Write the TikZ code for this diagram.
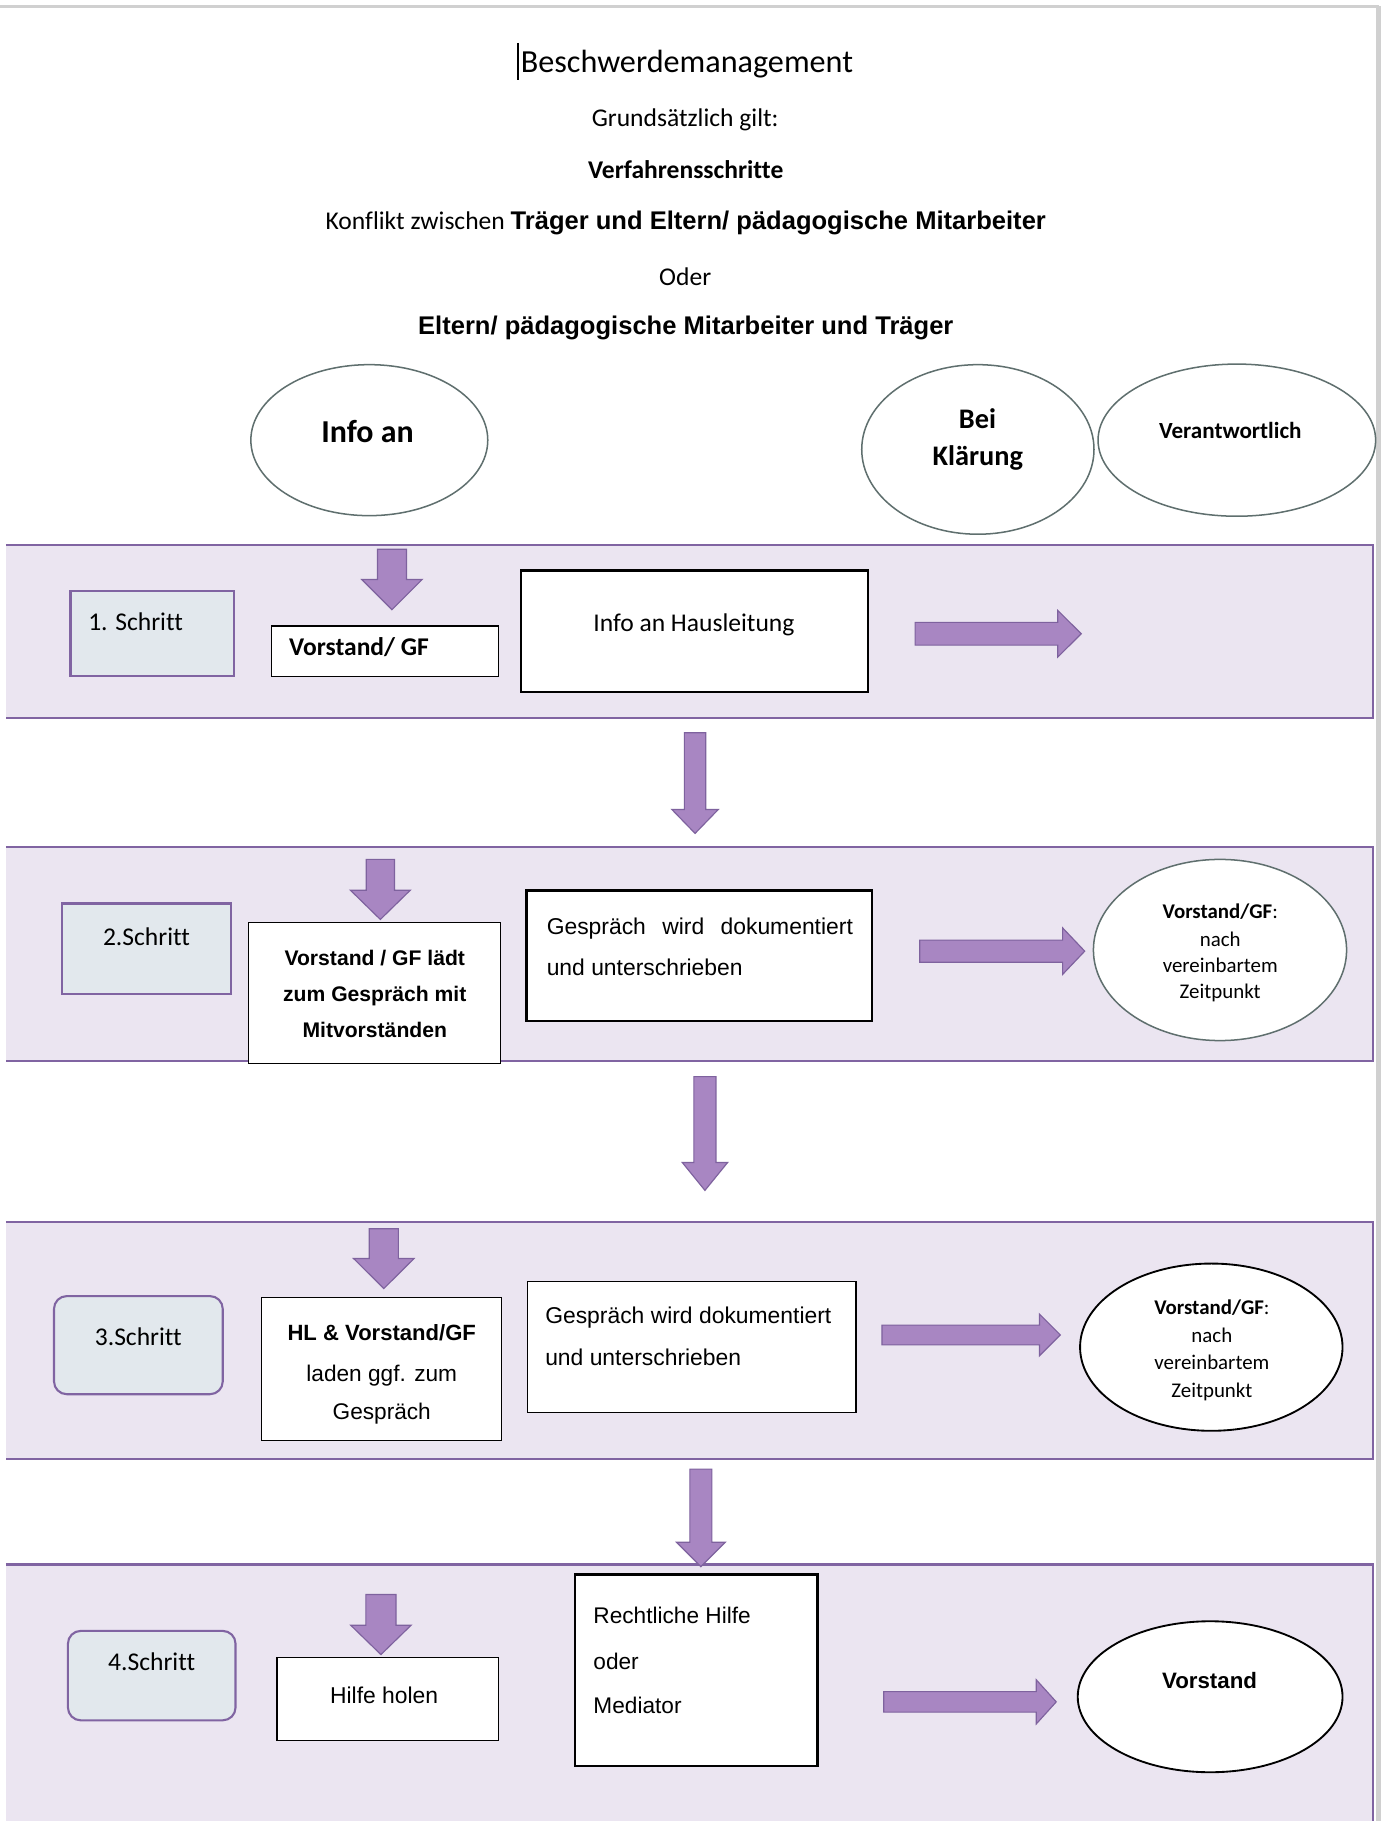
\documentclass[tikz,border=0pt]{standalone}
\usepackage{fontspec}
\setmainfont{Carlito}[Ligatures=NoCommon]
\newfontfamily\arialf{Liberation Sans}
\usetikzlibrary{shapes.geometric}
\definecolor{bandfill}{HTML}{EBE5F1}
\definecolor{bandline}{HTML}{8064A2}
\definecolor{stepfill}{HTML}{E2E8ED}
\definecolor{arrfill}{HTML}{A886C2}
\definecolor{arrline}{HTML}{7E629E}
\definecolor{ellgray}{HTML}{5F6F6E}
\definecolor{pagegray}{HTML}{D0D0D0}
\newcommand\fsz[1]{\fontsize{#1}{#1}\selectfont}
% down block arrow: cx, ytop, yhead, ytip, shaft half width, head half width
\newcommand\darrow[6]{\filldraw[blockarrow] (#1-#5,#2) -- (#1+#5,#2) -- (#1+#5,#3) -- (#1+#6,#3) -- (#1,#4) -- (#1-#6,#3) -- (#1-#5,#3) -- cycle;}
% right block arrow: x0, cy, shaft half width, xhead, head half width, xtip
\newcommand\rarrow[6]{\filldraw[blockarrow] (#1,#2-#3) -- (#4,#2-#3) -- (#4,#2-#5) -- (#6,#2) -- (#4,#2+#5) -- (#4,#2+#3) -- (#1,#2+#3) -- cycle;}
\begin{document}
\begin{tikzpicture}[x=1pt,y=-1pt,
  txt/.style={inner sep=0pt,outer sep=0pt,anchor=base},
  txtl/.style={inner sep=0pt,outer sep=0pt,anchor=base west},
  box/.style={draw=black,fill=white,line width=1pt,inner sep=0pt,rectangle},
  thickbox/.style={box,line width=2.2pt},
  stepbox/.style={draw=bandline,fill=stepfill,line width=1.8pt,inner sep=0pt,rectangle},
  rstepbox/.style={stepbox,rounded corners=11pt},
  ell/.style={draw=ellgray,fill=white,line width=1.3pt,ellipse,inner sep=0pt},
  bell/.style={draw=black,fill=white,line width=1.6pt,ellipse,inner sep=0pt},
  blockarrow/.style={fill=arrfill,draw=arrline,line width=1pt,line join=miter},
  band/.style={fill=bandfill},
  bandedge/.style={draw=bandline,line width=2pt}
]
\useasboundingbox (0,0) rectangle (1191,1568);
\fill[white] (0,0) rectangle (1191,1568);
% page frame
\draw[pagegray,line width=2pt] (0,5.5) -- (1187,5.5);
\fill[pagegray] (1185,5) rectangle (1189,1568);

% header texts
\draw[black,line width=1.2pt] (446,37) -- (446,69);
\node[txt] (title) at (591.5,62) {\fsz{27.7}Beschwerdemanagement};
\node[txt] (grund) at (590,109) {\fsz{22}Grundsätzlich gilt:};
\node[txt] (verf) at (590.5,154) {\fsz{22}\bfseries Verfahrensschritte};
\node[txt] (konf) at (590.5,197.5) {\fsz{22}Konflikt zwischen {\arialf\bfseries Träger und Eltern/ pädagogische Mitarbeiter}};
\node[txt] (oder) at (590,245.5) {\fsz{22}Oder};
\node[txt] (eltern) at (590.5,288) {\fsz{22}\arialf\bfseries Eltern/ pädagogische Mitarbeiter und Träger};

% header ellipses
\node[ell,minimum width=204pt,minimum height=130pt] (einfo) at (318,379) {};
\node[txt] (tinfo) at (316.4,381) {\fsz{27.5}\bfseries Info an};
\node[ell,minimum width=200pt,minimum height=146pt] (ebei) at (842,387) {};
\node[txt] (tbei) at (841.7,369) {\fsz{24.4}\bfseries Bei};
\node[txt] (tklaer) at (842,400.5) {\fsz{24.4}\bfseries Klärung};
\node[ell,minimum width=239pt,minimum height=131pt] (ever) at (1065,379) {};
\node[txt] (tver) at (1059.4,377.5) {\fsz{19.9}\bfseries Verantwortlich};

% bands
\fill[band] (5,469.5) rectangle (1182,618.5);
\draw[bandedge] (5,469.5) -- (1182,469.5) -- (1182,618.5) -- (5,618.5);
\fill[band] (5,729.2) rectangle (1182,913.7);
\draw[bandedge] (5,729.2) -- (1182,729.2) -- (1182,913.7) -- (5,913.7);
\fill[band] (5,1052) rectangle (1182,1256);
\draw[bandedge] (5,1052) -- (1182,1052) -- (1182,1256) -- (5,1256);
\fill[band] (5,1347) rectangle (1182,1568);
\draw[bandedge] (5,1347) -- (1182,1347) -- (1182,1568);

% ===== Schritt 1 =====
\node[stepbox,minimum width=140.5pt,minimum height=73pt] (s1) at (130.95,545.5) {};
\node[txtl] (ts1) at (76,543) {\fsz{22}1. Schritt};
\node[box,minimum width=195pt,minimum height=43.7pt] (b1a) at (331.5,560.85) {};
\node[txtl] (tb1a) at (249,564.5) {\fsz{22}\bfseries Vorstand/ GF};
\node[thickbox,minimum width=298.6pt,minimum height=104.7pt] (b1b) at (598,543.35) {};
\node[txt] (tb1b) at (597.5,543.5) {\fsz{22}Info an Hausleitung};
\darrow{337.5}{473}{499}{525}{12.5}{26}
\rarrow{788}{545.7}{9.8}{910.8}{20.1}{931}

% between 1 and 2
\darrow{598.5}{631}{697}{717.6}{9.2}{20}

% ===== Schritt 2 =====
\node[stepbox,minimum width=145.8pt,minimum height=78pt] (s2) at (126.1,817) {};
\node[txt] (ts2) at (126.1,814) {\fsz{22}2.Schritt};
\node[box,minimum width=216.4pt,minimum height=121.1pt] (b2a) at (322.4,855.15) {};
\node[txt] (tb2a1) at (322.7,831) {\fsz{18.2}\arialf\bfseries Vorstand / GF lädt};
\node[txt] (tb2a2) at (322.7,862) {\fsz{18.2}\arialf\bfseries zum Gespräch mit};
\node[txt] (tb2a3) at (322.7,893) {\fsz{18.2}\arialf\bfseries Mitvorständen};
\node[thickbox,minimum width=297.6pt,minimum height=112.3pt] (b2b) at (602.2,823.15) {};
\node[txtl] (tb2b1) at (470.8,805) {\fsz{19.7}\arialf\hbox to 263.6pt{Gespräch\hfill wird\hfill dokumentiert}};
\node[txtl] (tb2b2) at (470.8,840) {\fsz{19.7}\arialf und unterschrieben};
\darrow{327.5}{740}{766.5}{791.7}{12.2}{25.8}
\rarrow{792}{819}{9.5}{915}{20}{934}
\node[ell,minimum width=218pt,minimum height=156pt] (e2) at (1050.5,818) {};
\node[txt] (te2a) at (1050.7,791) {\fsz{18}\textbf{Vorstand/GF}:};
\node[txt] (te2b) at (1050.7,815) {\fsz{18}nach};
\node[txt] (te2c) at (1050.7,837) {\fsz{18}vereinbartem};
\node[txt] (te2d) at (1050.7,860) {\fsz{18}Zeitpunkt};

% between 2 and 3
\darrow{607}{927}{1001}{1025}{9.5}{19.5}

% ===== Schritt 3 =====
\node[rstepbox,minimum width=145.3pt,minimum height=84.5pt] (s3) at (119.15,1158.25) {};
\node[txt] (ts3) at (119.1,1158.5) {\fsz{22}3.Schritt};
\node[box,minimum width=206.7pt,minimum height=122.8pt] (b3a) at (328.65,1178.6) {};
\node[txt] (tb3a1) at (328.7,1154) {\fsz{19}\arialf\bfseries HL \& Vorstand/GF};
\node[txt] (tb3a2) at (328.7,1189.5) {\fsz{19.5}\arialf laden ggf. zum};
\node[txt] (tb3a3) at (328.7,1222.5) {\fsz{19.5}\arialf Gespräch};
\node[box,minimum width=283pt,minimum height=113.1pt] (b3b) at (595.5,1160.05) {};
\node[txtl] (tb3b1) at (469.5,1140) {\fsz{19.7}\arialf Gespräch wird dokumentiert};
\node[txtl] (tb3b2) at (469.5,1175.5) {\fsz{19.7}\arialf und unterschrieben};
\darrow{330.5}{1058}{1083.7}{1109.5}{12.5}{26}
\rarrow{759.4}{1149.5}{8.5}{895}{18}{913}
\node[bell,minimum width=226pt,minimum height=144pt] (e3) at (1043,1160) {};
\node[txt] (te3a) at (1043.5,1132) {\fsz{18}\textbf{Vorstand/GF}:};
\node[txt] (te3b) at (1043.5,1156) {\fsz{18}nach};
\node[txt] (te3c) at (1043.5,1179) {\fsz{18}vereinbartem};
\node[txt] (te3d) at (1043.5,1203) {\fsz{18}Zeitpunkt};

% between 3 and 4
\darrow{603.5}{1265}{1328}{1349}{9.5}{21}

% ===== Schritt 4 =====
\node[rstepbox,minimum width=144.3pt,minimum height=77pt] (s4) at (130.65,1442.8) {};
\node[txt] (ts4) at (130.6,1438.2) {\fsz{22}4.Schritt};
\node[box,minimum width=190.5pt,minimum height=71.2pt] (b4a) at (333.75,1462.9) {};
\node[txt] (tb4a) at (330.8,1467) {\fsz{19.7}\arialf Hilfe holen};
\node[thickbox,minimum width=208.9pt,minimum height=165pt] (b4b) at (599.55,1438) {};
\node[txtl] (tb4b1) at (511,1398) {\fsz{19.5}\arialf Rechtliche Hilfe};
\node[txtl] (tb4b2) at (511,1437.6) {\fsz{19.5}\arialf oder};
\node[txtl] (tb4b3) at (511,1475.5) {\fsz{19.5}\arialf Mediator};
\darrow{328}{1373}{1399.4}{1424.7}{13}{26}
\rarrow{761}{1465.4}{8.8}{892.3}{19}{909.5}
\node[bell,minimum width=228pt,minimum height=130pt] (e4) at (1042,1461) {};
\node[txt] (te4) at (1041.5,1454) {\fsz{19.2}\arialf\bfseries Vorstand};
\end{tikzpicture}
\end{document}
